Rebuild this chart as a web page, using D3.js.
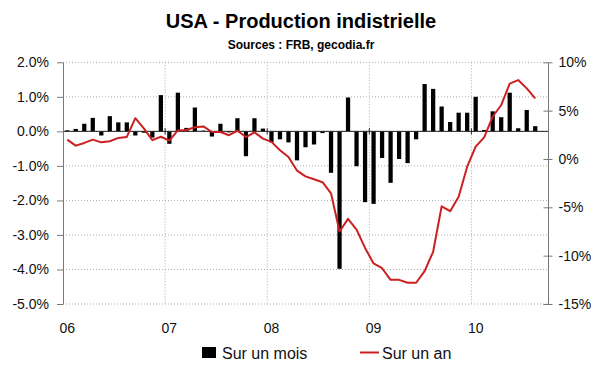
<!DOCTYPE html>
<html>
<head>
<meta charset="utf-8">
<script src="https://cdn.jsdelivr.net/npm/d3@7"></script>
<style>
  body { margin: 0; background: #fff; }
  svg { display: block; font-family: "Liberation Sans", Arial, sans-serif; }
</style>
</head>
<body>
<script>
// monthly change (left axis, %), Jan 2006 - Aug 2010
const monthly = [
  0.03, 0.07, 0.22, 0.39, -0.12, 0.44, 0.26, 0.26, -0.12, -0.04,
  -0.18, 1.05, -0.36, 1.12, 0.10, 0.69, 0.02, -0.15, 0.22, -0.03,
  0.38, -0.72, 0.38, 0.08, -0.32, -0.23, -0.32, -0.84, -0.46, -0.38,
  -0.05, -1.20, -3.98, 0.98, -1.01, -2.05, -2.10, -0.77, -1.49, -0.80,
  -0.92, -0.23, 1.37, 1.23, 0.72, 0.27, 0.54, 0.54, 1.00, 0.04,
  0.58, 0.41, 1.12, 0.09, 0.62, 0.15
];
// yearly change (right axis, %)
const yearly = [
  2.00, 1.38, 1.66, 2.00, 1.72, 1.83, 2.18, 2.28, 4.22, 3.17,
  1.95, 2.30, 1.89, 2.95, 3.00, 3.28, 3.37, 2.79, 2.79, 2.46,
  2.92, 2.27, 2.75, 2.10, 1.77, 0.90, 0.20, -1.20, -1.80, -2.10,
  -2.40, -3.55, -7.50, -6.20, -7.30, -9.20, -10.80, -11.30, -12.50, -12.50,
  -12.80, -12.80, -11.60, -9.60, -4.90, -5.40, -3.90, -0.80, 1.27, 2.24,
  4.37, 5.58, 7.80, 8.16, 7.30, 6.27
];
// category axis runs Jan 2006 - Sep 2010
const months = d3.timeMonth.range(new Date(2006, 0, 1), new Date(2010, 9, 1));
const yearLabels = ["06", "07", "08", "09", "10"];
const leftTicks = [2, 1, 0, -1, -2, -3, -4, -5];
const rightTicks = [10, 5, 0, -5, -10, -15];

const width = 600, height = 372;
const x0 = 63, x1 = 548, yTop = 62.3, yBot = 304;

const svg = d3.select("body").append("svg")
  .attr("width", width)
  .attr("height", height);

const x = d3.scaleBand().domain(months).range([x0, x1])
  .paddingInner(0.5).paddingOuter(0.25);
const yL = d3.scaleLinear().domain([-5, 2]).range([yBot, yTop]);
const yR = d3.scaleLinear().domain([-15, 10]).range([yBot, yTop]);

const jans = months.filter(d => d.getMonth() === 0);
const edge = d => x(d) - x.step() * 0.25;

// title
svg.append("text").attr("x", 301).attr("y", 28).attr("text-anchor", "middle")
  .attr("font-size", 20).attr("font-weight", "bold").text("USA - Production indistrielle");
svg.append("text").attr("x", 301).attr("y", 48.5).attr("text-anchor", "middle")
  .attr("font-size", 12).attr("font-weight", "bold").text("Sources : FRB, gecodia.fr");

// grid
const grid = svg.append("g").attr("stroke", "#aaa").attr("stroke-dasharray", "1,2");
grid.selectAll(".h").data(leftTicks).join("line")
  .attr("x1", x0).attr("x2", x1)
  .attr("y1", d => yL(d)).attr("y2", d => yL(d));
grid.selectAll(".v").data(jans.slice(1)).join("line")
  .attr("x1", edge).attr("x2", edge)
  .attr("y1", yTop).attr("y2", yBot);

// bars
svg.append("g").selectAll("rect").data(monthly).join("rect")
  .attr("x", (d, i) => x(months[i]))
  .attr("width", x.bandwidth())
  .attr("y", d => yL(Math.max(0, d)))
  .attr("height", d => Math.abs(yL(d) - yL(0)))
  .attr("fill", "#000");

// zero line with year ticks
svg.append("line").attr("x1", x0).attr("x2", x1)
  .attr("y1", yL(0)).attr("y2", yL(0)).attr("stroke", "#222");
svg.append("g").selectAll("line").data(jans.slice(1)).join("line")
  .attr("x1", edge).attr("x2", edge)
  .attr("y1", yL(0) - 3).attr("y2", yL(0) + 3).attr("stroke", "#222");

// yearly line
svg.append("path").datum(yearly)
  .attr("fill", "none").attr("stroke", "#cc1f1f").attr("stroke-width", 2)
  .attr("stroke-linejoin", "round")
  .attr("d", d3.line().x((d, i) => x(months[i]) + x.bandwidth() / 2).y(d => yR(d)));

// left axis
svg.append("g").attr("transform", `translate(${x0},0)`)
  .call(d3.axisLeft(yL).tickValues(leftTicks).tickSize(6).tickSizeOuter(0)
    .tickPadding(8).tickFormat(d => `${d.toFixed(1)}%`))
  .call(g => g.select(".domain").attr("stroke", "#777"))
  .call(g => g.selectAll(".tick line").attr("stroke", "#777"))
  .call(g => g.selectAll(".tick text").attr("font-size", 14).attr("fill", "#111")
    .attr("font-family", "Liberation Sans, Arial, sans-serif"));

// right axis
svg.append("g").attr("transform", `translate(${x1},0)`)
  .call(d3.axisRight(yR).tickValues(rightTicks).tickSize(4.5).tickSizeOuter(0)
    .tickPadding(6).tickFormat(d => `${d}%`))
  .call(g => g.select(".domain").attr("stroke", "#777"))
  .call(g => g.selectAll(".tick line").attr("x1", -4.5).attr("stroke", "#777"))
  .call(g => g.selectAll(".tick text").attr("font-size", 14).attr("fill", "#111")
    .attr("font-family", "Liberation Sans, Arial, sans-serif"));

// year labels
svg.append("g").selectAll("text").data(jans).join("text")
  .attr("x", d => x(d) + x.bandwidth() / 2)
  .attr("y", 333)
  .attr("text-anchor", "middle")
  .attr("font-size", 14)
  .attr("fill", "#111")
  .text((d, i) => yearLabels[i]);

// legend
const lg = svg.append("g").attr("font-size", 16).attr("fill", "#111");
lg.append("rect").attr("x", 202).attr("y", 347).attr("width", 14).attr("height", 11).attr("fill", "#000");
lg.append("text").attr("x", 222).attr("y", 358.5).text("Sur un mois");
lg.append("line").attr("x1", 360).attr("x2", 379).attr("y1", 352.5).attr("y2", 352.5)
  .attr("stroke", "#cc1f1f").attr("stroke-width", 2);
lg.append("text").attr("x", 382).attr("y", 358.5).text("Sur un an");
</script>
</body>
</html>
